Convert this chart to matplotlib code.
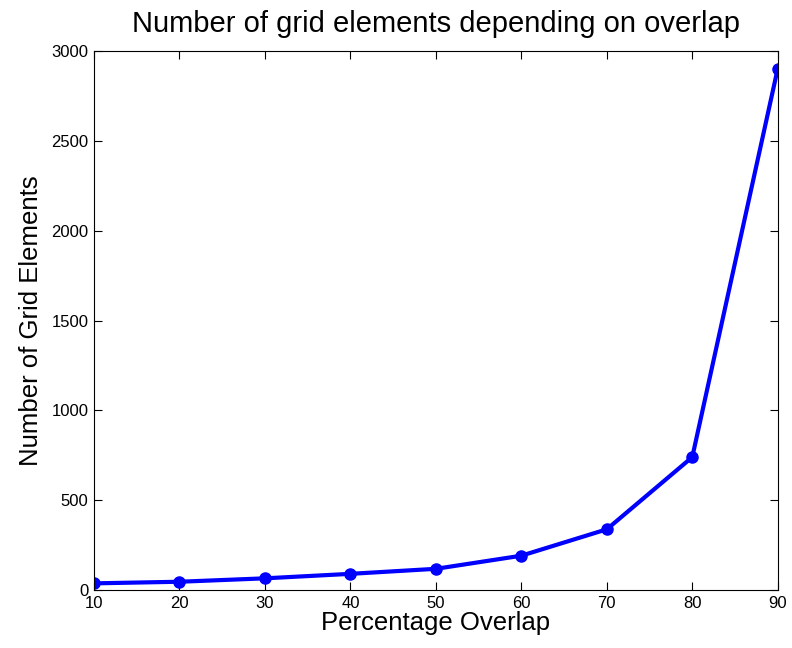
import matplotlib.pyplot as plt

plt.rcParams['font.family'] = ['Liberation Sans', 'DejaVu Sans']

# Porcentaje de solapamiento y numero de elementos de la malla
overlap = [10, 20, 30, 40, 50, 60, 70, 80, 90]
n_elements = [37, 46, 65, 90, 118, 191, 338, 740, 2903]

fig = plt.figure(figsize=(7.92, 6.48), dpi=100)
ax = fig.add_axes([0.1187, 0.0895, 0.8633, 0.8315])

ax.plot(overlap, n_elements, color='#0000ff', linewidth=3, marker='o', markersize=8)

ax.set_xlim(10, 90)
ax.set_ylim(0, 3000)
ax.set_xticks(range(10, 91, 10))
ax.set_yticks(range(0, 3001, 500))
ax.tick_params(direction='in', top=True, right=True, labelsize=12, length=6, pad=4)

ax.set_title('Number of grid elements depending on overlap', fontsize=21, pad=14)
ax.set_xlabel('Percentage Overlap', fontsize=18.5, labelpad=0)
ax.set_ylabel('Number of Grid Elements', fontsize=18.5, labelpad=6)

fig.savefig('out.png', dpi=100)
